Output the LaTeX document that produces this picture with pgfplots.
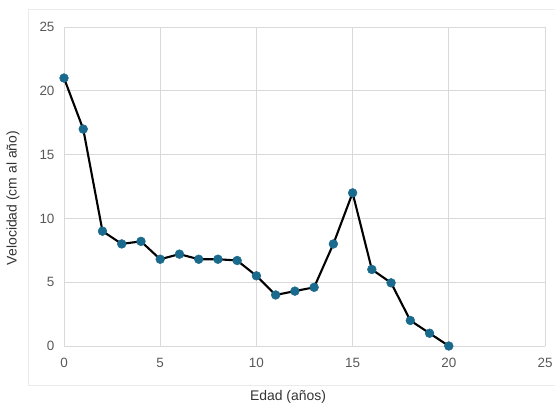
\documentclass[border=0pt]{standalone}
\usepackage{fontspec}
\setmainfont{Liberation Sans}
\usepackage{pgfplots}
\pgfplotsset{compat=1.18}
\definecolor{mk}{HTML}{1A6A8D}
\definecolor{gr}{HTML}{D9D9D9}
\definecolor{tk}{HTML}{595959}
\begin{document}
\begin{tikzpicture}
\useasboundingbox (-64bp,-58bp) rectangle (491bp,346bp);
\draw[color=black!8, line width=0.6bp] (-36bp,-39bp) rectangle (500bp,337bp);
\begin{axis}[
  scale only axis,
  width=481bp, height=319bp,
  at={(0,0)}, anchor=south west,
  xmin=0, xmax=25, ymin=0, ymax=25,
  xtick={0,5,...,25}, ytick={0,5,...,25},
  grid=major,
  major grid style={color=gr, line width=0.9bp},
  axis line style={draw=none},
  tick style={draw=none},
  extra y ticks={0},
  extra y tick style={grid style={color=black!28, line width=1bp}, yticklabels={}},
  /pgf/number format/assume math mode=true,
  ticklabel style={font=\fontsize{13.5}{15}\selectfont, text=tk},
  xticklabel style={yshift=-9bp},
  yticklabel style={xshift=-6bp},
  xlabel={Edad (años)},
  ylabel={Velocidad (cm al año)},
  label style={font=\fontsize{14}{16}\selectfont, text=black!80},
  xlabel style={at={(axis description cs:0.4657,-0.16)}, anchor=center},
  ylabel style={at={(axis description cs:-0.106,0.464)}, anchor=center},
]
\addplot[black, line width=2.1bp, mark=*, mark size=4.4bp,
  mark options={fill=mk, draw=mk, line width=0.5bp}]
  coordinates {
  (0,21) (1,17) (2,9) (3,8) (4,8.2) (5,6.8) (6,7.2) (7,6.8) (8,6.8) (9,6.7)
  (10,5.5) (11,4.0) (12,4.3) (13,4.6) (14,8.0) (15,12.0) (16,6.0) (17,4.95)
  (18,2.0) (19,1.0) (20,0)
  };
\end{axis}
\end{tikzpicture}
\end{document}
